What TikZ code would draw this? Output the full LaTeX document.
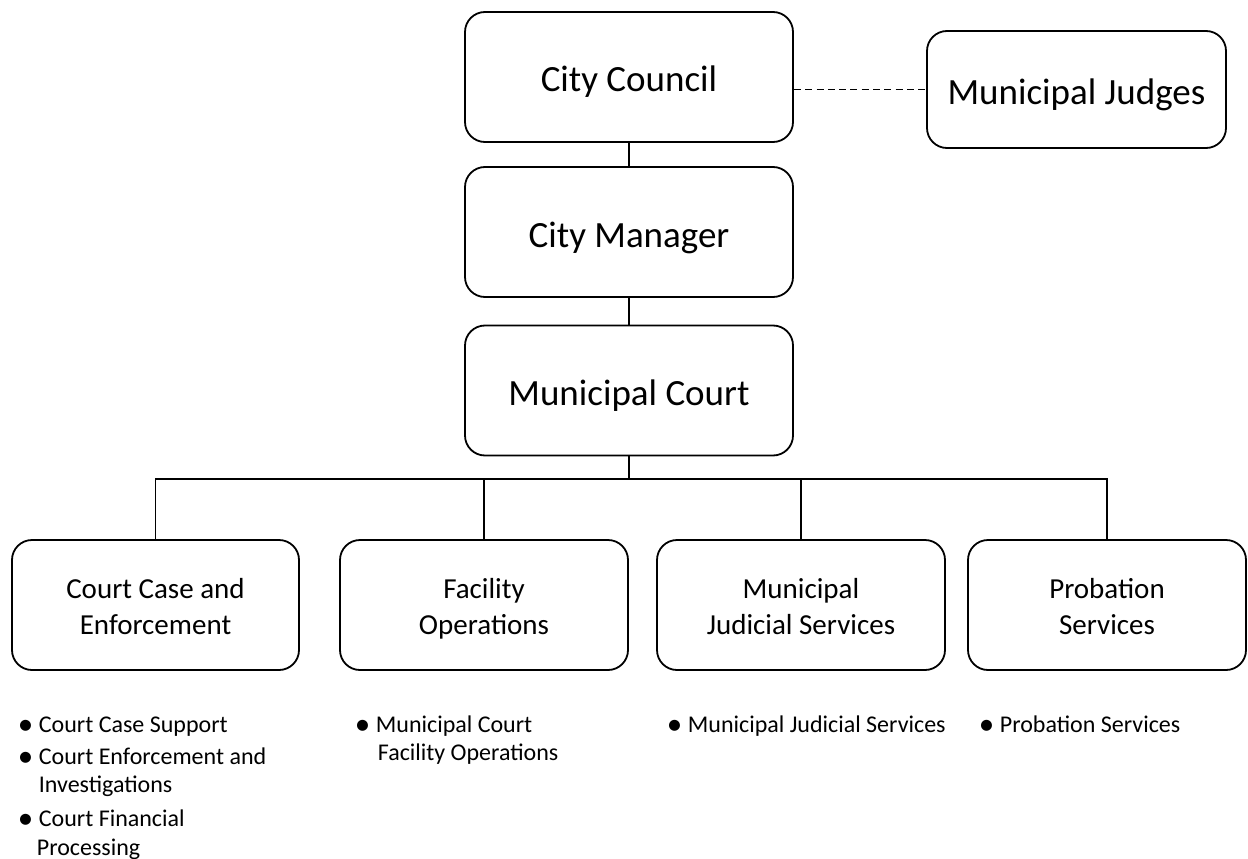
\documentclass[tikz,border=0pt]{standalone}
\usepackage{fontspec}
\setmainfont{Carlito}
\usepackage{tikz}
\newcommand{\bul}{\llap{\raisebox{-2.5pt}{\fontsize{31}{0}\selectfont\textbullet}\hspace{5.5pt}}}

\begin{document}
\begin{tikzpicture}[x=1pt,y=-1pt,line width=1.8pt]
    \tikzstyle{topbox}=[draw=black,rounded corners=20pt,minimum width=328pt,minimum height=130pt,inner sep=0pt,font=\fontsize{37}{44}\selectfont,execute at begin node={\rule[-10pt]{0pt}{50pt}}]
    \tikzstyle{unitbox}=[draw=black,rounded corners=20pt,minimum height=130pt,inner sep=0pt,align=center,font=\fontsize{29}{36}\selectfont,execute at begin node={\rule[-8pt]{0pt}{74pt}}]
    \tikzstyle{item}=[anchor=base west,inner sep=0pt,font=\fontsize{24}{29}\selectfont]
    \useasboundingbox (0,0) rectangle (1248,859);

    \node[topbox] (council) at (629,77) {City Council};
    \node[topbox] (manager) at (629,232) {City Manager};
    \node[topbox] (court) at (629,390.5) {Municipal Court};
    \node[topbox,minimum width=299pt,minimum height=117pt] (judges) at (1076.5,89.5) {Municipal Judges};

    \foreach \num/\x/\w/\txt in {1/155.5/287/{Court Case and\\Enforcement}, 2/484/288/{Facility\\Operations}, 3/801/288/{Municipal\\Judicial Services}, 4/1107/278/{Probation\\Services}}
        \node[unitbox,minimum width=\w pt] (U-\num) at (\x,605) {\txt};

    \coordinate (bus) at (629,479);
    \draw (council) -- (manager);
    \draw (manager) -- (court);
    \draw (court) -- (bus);
    \foreach \num in {1,...,4}
        \draw (bus) -| (U-\num.north);
    \draw[dash pattern=on 7pt off 4.3pt] (council.east |- judges.west) -- (judges.west);

    \foreach \num/\x/\y/\txt in {1/38/732/{\bul Court Case Support}, 2/38/764/{\bul Court Enforcement and}, 3/38/792/{Investigations}, 4/38/826/{\bul Court Financial}, 5/36/855/{Processing}, 6/375/732/{\bul Municipal Court}, 7/377/760/{Facility Operations}, 8/687/732/{\bul Municipal Judicial Services}, 9/999/732/{\bul Probation Services}}
        \node[item] (L-\num) at (\x,\y) {\txt};
\end{tikzpicture}
\end{document}
